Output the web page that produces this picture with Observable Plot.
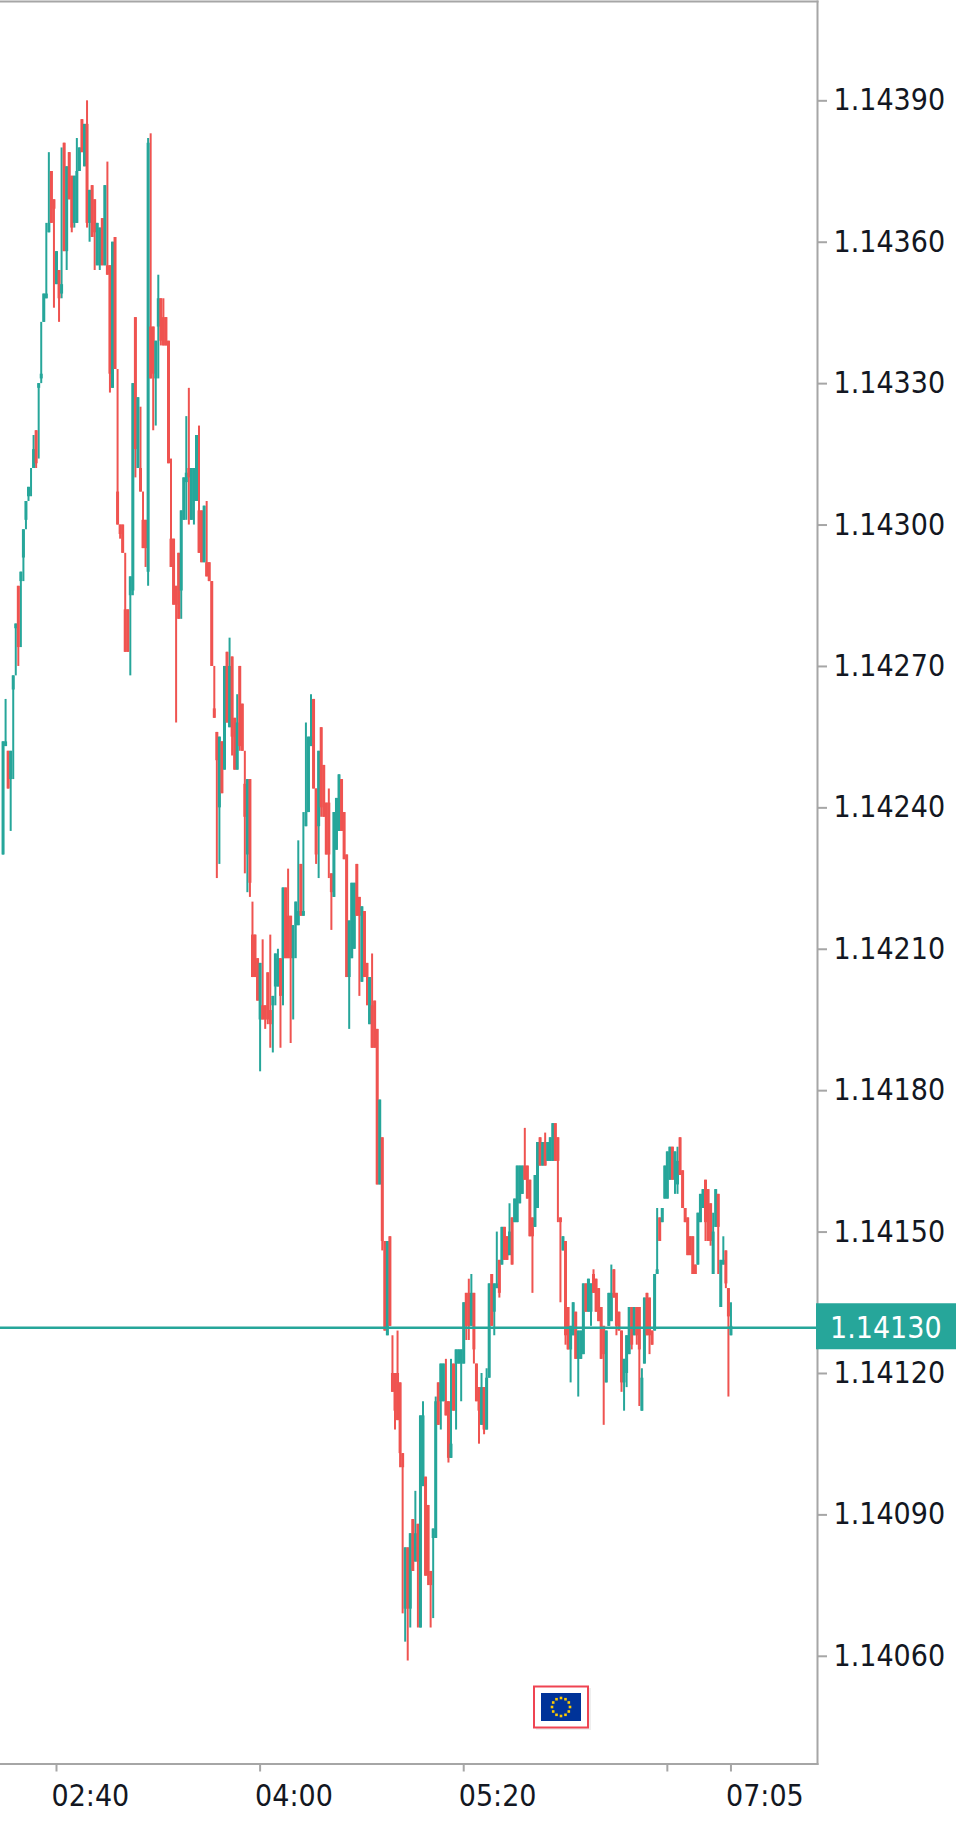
<!DOCTYPE html>
<html>
<head>
<meta charset="utf-8">
<script src="https://cdn.jsdelivr.net/npm/d3@7"></script>
<script src="https://cdn.jsdelivr.net/npm/@observablehq/plot@0.6"></script>
<style>
html,body{margin:0;padding:0;background:#fff}
svg{display:block}
</style>
</head>
<body>
<div id="chart"></div>
<script>
// EUR/USD one-minute candles from 02:19 to 07:05. Values are points above priceBase, in 0.00001.
const priceBase = 1.14;
const firstMinute = [2, 19];
const opens = [
230,253,252,246,265,278,287,288,293,301,
306,312,312,320,329,331,343,348,362,375,
369,351,354,349,381,358,379,374,364,364,
375,386,376,385,364,372,369,355,355,365,
355,355,355,329,361,307,300,300,282,282,
285,286,344,312,312,301,301,290,342,342,
331,342,348,344,344,339,297,297,287,294,
286,301,309,312,301,305,305,303,303,292,
292,292,288,261,256,240,254,248,273,257,
272,259,248,270,262,245,230,246,213,213,
208,195,198,198,205,197,198,202,202,208,
208,223,217,217,208,215,215,228,217,236,
239,253,263,244,236,257,249,241,241,226,
221,231,235,246,239,230,204,208,210,228,
221,203,218,207,194,198,199,193,160,170,
148,128,149,120,120,120,118,103,70,83,
70,89,80,88,66,96,98,92,78,85,
85,118,114,114,114,114,102,122,122,122,
122,122,137,137,130,137,122,117,109,117,
108,119,141,133,138,144,143,151,149,145,
153,152,152,156,158,164,164,161,153,151,
155,170,164,169,165,165,165,173,170,153,
146,148,134,125,128,133,123,123,124,139,
133,133,141,140,138,134,130,118,130,131,
142,137,133,129,118,120,124,134,128,134,
134,112,122,137,136,129,129,141,153,152,
157,157,161,168,161,160,170,163,155,153,
149,149,143,143,152,155,161,159,156,141,
151,158,134,143,146,138,128];
const highs = [
254,263,252,252,268,279,287,290,299,305,
308,312,319,320,330,343,349,364,379,375,
369,358,354,380,381,376,379,374,374,382,
380,386,385,390,371,372,369,364,363,365,
372,377,355,360,361,333,300,300,294,282,
289,330,344,327,325,307,301,382,383,342,
339,353,348,348,344,339,314,297,287,294,
303,310,323,329,312,312,319,321,303,304,
305,292,288,270,256,255,254,270,273,276,
272,259,264,270,262,252,246,246,220,213,
208,207,212,198,205,213,200,209,210,208,
223,223,227,217,215,220,233,228,239,258,
255,264,263,244,252,257,249,241,244,226,
239,242,247,246,239,230,216,224,224,228,
221,219,218,207,204,209,199,193,178,170,
148,148,149,128,120,129,118,103,83,83,
86,89,95,88,111,114,98,92,78,87,
115,118,122,122,123,114,123,122,125,125,
125,135,137,140,141,137,122,117,120,117,
121,139,141,139,150,144,151,151,149,156,
153,157,164,164,164,172,164,161,153,162,
169,170,169,171,169,170,173,173,170,153,
149,148,134,130,135,133,129,129,139,139,
140,139,142,140,138,134,130,129,137,143,
142,137,133,129,123,128,134,134,134,134,
134,121,136,137,136,129,141,155,153,155,
164,167,168,168,167,168,170,163,155,153,
149,149,143,154,158,159,161,159,156,154,
159,158,144,149,146,138,135];
const lows = [
230,253,244,235,246,268,270,274,288,299,
305,306,312,312,314,330,343,348,362,364,
346,351,343,348,358,354,369,362,363,364,
375,379,376,363,360,361,354,355,354,355,
355,353,328,329,333,300,297,294,273,273,
268,285,310,312,307,295,291,287,331,320,
321,331,338,338,338,313,291,283,258,280,
280,301,301,300,301,300,305,294,292,292,
289,288,270,259,225,228,243,248,258,257,
251,248,248,252,252,226,222,221,204,204,
199,184,195,193,194,189,188,198,202,189,
198,208,208,190,195,208,215,217,217,236,
239,253,244,228,225,238,238,230,225,214,
221,231,235,235,229,204,193,208,210,217,
200,203,204,198,194,189,189,160,160,146,
129,128,130,116,108,110,100,69,63,59,
66,78,80,66,66,96,77,75,66,68,
85,109,108,114,111,101,102,112,108,122,
114,122,127,127,130,122,114,105,109,107,
108,119,130,128,138,136,143,144,144,145,
143,152,152,156,158,161,157,149,137,151,
155,164,164,164,165,165,165,165,152,135,
146,126,125,118,128,123,115,123,124,133,
133,130,137,133,131,123,109,118,130,131,
136,128,129,116,112,117,124,125,128,126,
113,112,122,128,124,126,129,141,148,152,
157,157,161,161,158,158,162,155,152,145,
145,141,141,143,152,155,148,148,147,141,
151,141,134,143,138,115,128];
const closes = [
254,254,244,252,268,279,274,290,299,305,
308,312,316,313,330,332,349,349,364,364,
367,358,348,351,358,376,369,363,374,375,
380,379,385,364,371,361,362,364,363,355,
372,353,332,360,333,300,298,294,273,273,
289,330,316,327,307,295,295,381,331,332,
339,348,339,338,338,313,291,283,283,280,
303,310,311,310,312,312,319,294,292,304,
289,288,270,259,250,255,243,270,258,270,
255,248,258,253,252,238,246,224,204,204,
199,207,195,195,195,194,200,209,208,200,
223,208,208,208,215,220,218,217,218,239,
255,255,244,230,252,240,238,230,230,222,
239,242,247,235,229,204,216,224,224,217,
217,219,204,204,204,189,189,160,178,148,
129,148,130,116,112,110,103,100,83,70,
86,78,86,80,111,111,77,77,75,87,
114,109,122,122,111,102,105,112,125,125,
125,135,130,130,137,125,114,112,117,108,
119,139,130,139,139,137,151,144,144,150,
143,157,164,164,164,161,157,149,149,162,
169,164,169,164,169,170,173,165,165,152,
149,128,125,130,135,123,129,129,139,133,
140,139,137,133,131,123,124,129,137,137,
136,130,129,118,123,128,134,126,134,128,
125,119,136,128,128,126,141,142,148,155,
164,167,168,161,167,165,162,155,152,145,
145,141,141,154,158,159,152,148,148,150,
159,151,144,144,139,132,130];

const yTicks = [1.1406,1.1409,1.1412,1.1415,1.1418,1.1421,1.1424,1.1427,1.143,1.1433,1.1436,1.1439];
const xTickTimes = [[2,40],[4,0],[5,20],[6,40],[7,5]];
const xTickLabels = ["02:40","04:00","05:20","","07:05"];
const lastPrice = 1.141297;
const lastPriceLabel = "1.14130";
const yDomain = [1.1403715, 1.1441107];
const xDomainMinutes = [[2,18.7],[7,39.1]];

const upColor = "#26a69a", downColor = "#ef5350", axisColor = "#a6a6a6", textColor = "#131722";
const fontFamily = "'DejaVu Sans Condensed','DejaVu Sans',sans-serif";

const toTime = ([h, m]) => new Date(Date.UTC(2021, 0, 1, h, m));
const price = n => priceBase + n / 1e5;
const t0 = +toTime(firstMinute);
const candles = opens.map((o, i) => ({
  time: new Date(t0 + i * 60000),
  open: price(o), high: price(highs[i]), low: price(lows[i]), close: price(closes[i]),
  color: closes[i] >= o ? upColor : downColor
}));

const chart = Plot.plot({
  width: 959, height: 1824,
  marginLeft: 0, marginRight: 142, marginTop: 1, marginBottom: 60.5,
  style: {fontFamily, background: "#fff", overflow: "visible"},
  x: {type: "utc", domain: xDomainMinutes.map(toTime)},
  y: {domain: yDomain},
  marks: [
    Plot.ruleX(candles, {x: "time", y1: "low", y2: "high", stroke: "color", strokeWidth: 2}),
    Plot.ruleX(candles, {x: "time", y1: "open", y2: "close", stroke: "color", strokeWidth: 3}),
    Plot.ruleY([lastPrice], {stroke: upColor, strokeWidth: 2.4}),
    Plot.frame({anchor: "top", stroke: axisColor, strokeWidth: 2}),
    Plot.frame({anchor: "right", stroke: axisColor, strokeWidth: 2}),
    Plot.frame({anchor: "bottom", stroke: axisColor, strokeWidth: 2}),
    Plot.axisY({
      anchor: "right", ticks: yTicks, tickFormat: d3.format(".5f"),
      tickSize: 9, tickPadding: 7, fontSize: 30, stroke: axisColor, strokeWidth: 2, fill: textColor, label: null
    }),
    Plot.axisX({
      anchor: "bottom", ticks: xTickTimes.map(toTime), tickFormat: () => "",
      tickSize: 8, stroke: axisColor, strokeWidth: 2, label: null
    }),
    Plot.axisX({
      anchor: "bottom", ticks: xTickTimes.map(toTime),
      tickFormat: (d, i) => xTickLabels[i],
      tickSize: 0, tickPadding: 21, fontSize: 30, textAnchor: "start", dx: -5,
      stroke: "none", fill: textColor, label: null
    })
  ]
});

// Last-price tag, placed through the y scale
const svg = d3.select(chart);
const yLast = chart.scale("y").apply(lastPrice);
const tag = svg.append("g");
tag.append("rect").attr("x", 816).attr("y", yLast - 24).attr("width", 140).attr("height", 46).attr("fill", upColor);
tag.append("text").attr("x", 830).attr("y", yLast).attr("dy", "0.35em").attr("text-anchor", "start")
  .attr("font-size", 30).attr("fill", "#fff").text(lastPriceLabel);

// EU flag badge
const badge = svg.append("g");
badge.append("rect").attr("x", 536).attr("y", 1688).attr("width", 55).attr("height", 42).attr("fill", "#eeeeee");
badge.append("rect").attr("x", 534).attr("y", 1686.5).attr("width", 54).attr("height", 41)
  .attr("fill", "#fff").attr("stroke", "#ef4452").attr("stroke-width", 2);
badge.append("rect").attr("x", 541).attr("y", 1693).attr("width", 40).attr("height", 28).attr("fill", "#003399");
badge.selectAll(".star").data(d3.range(12)).join("rect")
  .attr("x", i => 561 + 9 * Math.sin(i * Math.PI / 6) - 1.3)
  .attr("y", i => 1707 - 9 * Math.cos(i * Math.PI / 6) - 1.3)
  .attr("width", 2.6).attr("height", 2.6).attr("fill", "#ffcc00");

document.getElementById("chart").append(chart);
</script>
</body>
</html>
